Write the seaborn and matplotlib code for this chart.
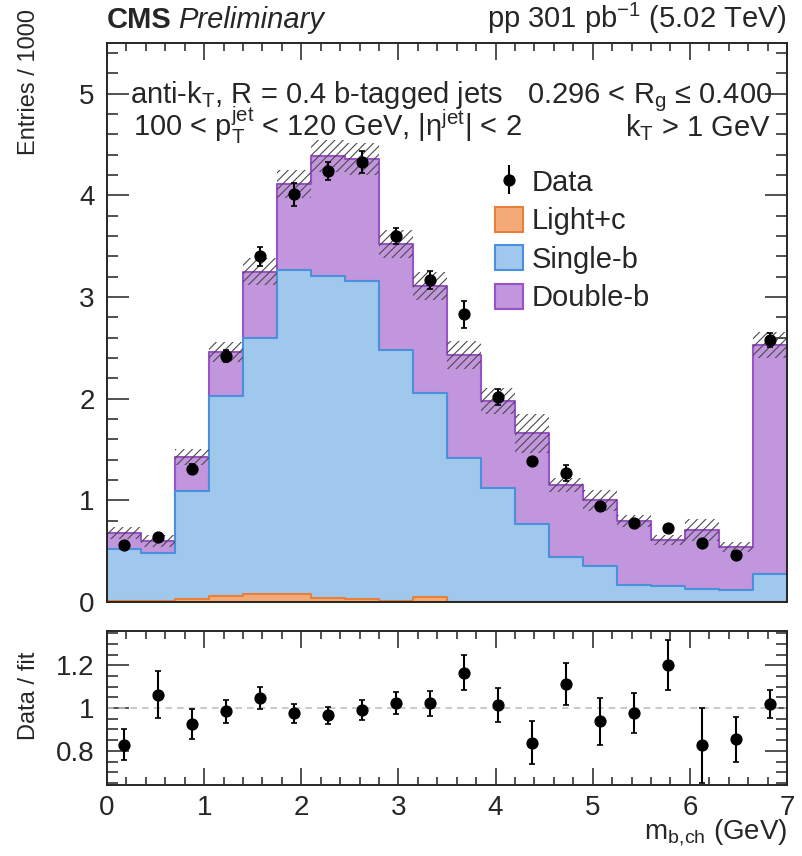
import numpy as np
import pandas as pd
import matplotlib
matplotlib.use('Agg')
import matplotlib.pyplot as plt
from matplotlib.patches import Patch
from matplotlib.ticker import MultipleLocator, FuncFormatter
import seaborn as sns

# binning of the b-jet charged mass (GeV)
bin_edges = np.linspace(0, 7, 21)

# fitted templates, entries / 1000 per bin
light_c = [0.015, 0.01, 0.025, 0.06, 0.075, 0.075, 0.035, 0.025, 0.01, 0.045,
           0.005, 0.005, 0.005, 0.005, 0.005, 0.005, 0.005, 0.005, 0.005, 0.005]
single_b = [0.505, 0.47, 1.065, 1.97, 2.525, 3.195, 3.175, 3.135, 2.47, 2.015,
            1.415, 1.115, 0.765, 0.435, 0.345, 0.165, 0.155, 0.125, 0.115, 0.275]
double_b = [0.16, 0.12, 0.34, 0.43, 0.65, 0.84, 1.18, 1.20, 1.04, 1.05,
            1.01, 0.86, 0.89, 0.71, 0.65, 0.63, 0.45, 0.58, 0.42, 2.25]
fit_unc = [0.06, 0.06, 0.08, 0.10, 0.13, 0.14, 0.16, 0.16, 0.14, 0.14,
           0.14, 0.13, 0.19, 0.07, 0.10, 0.06, 0.05, 0.11, 0.05, 0.13]

# data
data = [0.56, 0.64, 1.31, 2.42, 3.40, 4.01, 4.24, 4.33, 3.60, 3.17,
        2.83, 2.02, 1.39, 1.27, 0.94, 0.78, 0.73, 0.58, 0.46, 2.58]
data_err = [0.03, 0.03, 0.05, 0.06, 0.09, 0.11, 0.09, 0.11, 0.08, 0.09,
            0.13, 0.08, 0.04, 0.08, 0.03, 0.03, 0.03, 0.03, 0.03, 0.07]

# data / fit
ratio = [0.829, 1.062, 0.924, 0.984, 1.047, 0.975, 0.966, 0.991, 1.022, 1.022,
         1.166, 1.016, 0.838, 1.112, 0.938, 0.978, 1.200, 0.826, 0.855, 1.019]
ratio_err = [0.074, 0.11, 0.07, 0.055, 0.05, 0.043, 0.04, 0.047, 0.052, 0.06,
             0.082, 0.08, 0.10, 0.10, 0.11, 0.093, 0.117, 0.175, 0.105, 0.065]

components = ['Light+c', 'Single-b', 'Double-b']
fills = {'Light+c': '#f4aa78', 'Single-b': '#a0c8ec', 'Double-b': '#c196dc'}
edges = {'Light+c': '#e8803a', 'Single-b': '#4a90dc', 'Double-b': '#9a52c8'}

centers = 0.5 * (bin_edges[:-1] + bin_edges[1:])
width = bin_edges[1] - bin_edges[0]
df = pd.DataFrame({'center': centers, 'Light+c': light_c,
                   'Single-b': single_b, 'Double-b': double_b})
stack = df[components].cumsum(axis=1)
total = stack['Double-b'].to_numpy()

sns.set_theme(style='ticks')
font = ['Liberation Sans', 'DejaVu Sans']
plt.rcParams['font.family'] = font
plt.rcParams['mathtext.fontset'] = 'custom'
plt.rcParams['mathtext.rm'] = 'Liberation Sans'
plt.rcParams['mathtext.it'] = 'Liberation Sans:italic'
plt.rcParams['mathtext.bf'] = 'Liberation Sans:bold'
plt.rcParams['hatch.linewidth'] = 0.8
plt.rcParams['hatch.color'] = '#4a4a4a'

txt = 21  # size of the in-frame texts

fig = plt.figure(figsize=(8.03, 8.56), dpi=100)
ax = fig.add_axes([0.1333, 0.2967, 0.8468, 0.6531])
ax2 = fig.add_axes([0.1333, 0.0829, 0.8468, 0.1799])

# stacked templates, drawn top layer first
for name in components[::-1]:
    layer = pd.DataFrame({'center': centers, 'w': stack[name].to_numpy()})
    sns.histplot(data=layer, x='center', weights='w', bins=list(bin_edges),
                 element='step', fill=True, color=fills[name],
                 edgecolor=edges[name], alpha=1, linewidth=1.5, ax=ax)

# fit uncertainty band
ax.bar(centers, 2 * np.array(fit_unc), bottom=total - np.array(fit_unc),
       width=width, fill=False, hatch='////', edgecolor='#4a4a4a', linewidth=0)

ax.errorbar(centers, data, yerr=data_err, fmt='o', color='black', ms=7.8,
            elinewidth=1.5, capsize=2.2, capthick=1.2)

ax.set_xlim(0, 7)
ax.set_ylim(0, 5.5)
ax.set_xlabel('')
ax.set_ylabel('Entries / 1000', fontsize=17)
ax.yaxis.set_label_coords(-0.099, 0.93)
ax.yaxis.label.set_va('bottom')
ax.xaxis.set_major_locator(MultipleLocator(1))
ax.xaxis.set_minor_locator(MultipleLocator(0.2))
ax.yaxis.set_major_locator(MultipleLocator(1))
ax.yaxis.set_minor_locator(MultipleLocator(0.2))
ax.tick_params(which='both', direction='in', top=True, right=True,
               labelbottom=False, width=1.1, color='#222222')
ax.tick_params(axis='y', which='major', length=16, labelsize=20, pad=9)
ax.tick_params(axis='y', which='minor', length=8)
ax.tick_params(axis='x', which='major', length=12)
ax.tick_params(axis='x', which='minor', length=6)
for s in ax.spines.values():
    s.set_linewidth(1.4)

# legend
data_handle = ax.errorbar([], [], yerr=[], fmt='o', color='black', ms=7.8,
                          elinewidth=1.5, capsize=2.2)
handles = [data_handle] + [Patch(facecolor=fills[n], edgecolor=edges[n], linewidth=1.5)
                           for n in components]
ax.legend(handles, ['Data'] + components, loc='upper left',
          bbox_to_anchor=(0.5706, 0.776), frameon=False, fontsize=txt,
          handlelength=0.95, handleheight=0.95, handletextpad=0.3,
          labelspacing=0.34, borderpad=0, borderaxespad=0)

# annotations
ax.text(0.034, 0.893, r'anti-k$_{\mathrm{T}}$, R = 0.4 b-tagged jets',
        transform=ax.transAxes, fontsize=txt, va='baseline', ha='left')
ax.text(0.978, 0.893, r'0.296 < R$_{\mathrm{g}}$ ≤ 0.400',
        transform=ax.transAxes, fontsize=txt, va='baseline', ha='right')
ax.text(0.038, 0.833,
        r'100 < p$_{\mathrm{T}}^{\mathrm{jet}}$ < 120 GeV, |η$^{\mathrm{jet}}$| < 2',
        transform=ax.transAxes, fontsize=txt, va='baseline', ha='left')
ax.text(0.976, 0.833, r'k$_{\mathrm{T}}$ > 1 GeV',
        transform=ax.transAxes, fontsize=txt, va='baseline', ha='right')

cms = fig.text(0.1333, 0.9673, 'CMS', fontsize=txt, fontweight='bold',
               va='baseline', ha='left')
ax.annotate('Preliminary', xy=(1, 0), xycoords=cms, xytext=(6, 0),
            textcoords='offset pixels', fontsize=txt, style='italic',
            va='bottom', ha='left', annotation_clip=False)
fig.text(0.980, 0.9673, r'pp 301 pb$^{-1}$ (5.02 TeV)', fontsize=txt,
         va='baseline', ha='right')

# ratio panel
ax2.axhline(1.0, color='#c0c0c0', linestyle=(0, (4, 3)), linewidth=1.2)
ax2.errorbar(centers, ratio, yerr=ratio_err, fmt='o', color='black', ms=7.8,
             elinewidth=1.5, capsize=2.2, capthick=1.2)
ax2.set_xlim(0, 7)
ax2.set_ylim(0.64, 1.36)
ax2.xaxis.set_major_locator(MultipleLocator(1))
ax2.xaxis.set_minor_locator(MultipleLocator(0.2))
ax2.yaxis.set_major_locator(MultipleLocator(0.2))
ax2.yaxis.set_minor_locator(MultipleLocator(0.05))
ax2.yaxis.set_major_formatter(FuncFormatter(lambda v, p: f'{v:g}'))
ax2.tick_params(which='both', direction='in', top=True, right=True,
                width=1.1, color='#222222')
ax2.tick_params(axis='y', which='major', length=16, labelsize=20, pad=9)
ax2.tick_params(axis='y', which='minor', length=8)
ax2.tick_params(axis='x', which='major', length=12, labelsize=20, pad=7)
ax2.tick_params(axis='x', which='minor', length=6)
for s in ax2.spines.values():
    s.set_linewidth(1.4)
ax2.set_ylabel('Data / fit', fontsize=17)
ax2.yaxis.set_label_coords(-0.099, 0.578)
ax2.yaxis.label.set_va('bottom')
ax2.set_xlabel(r'm$_{\mathrm{b,\!ch}}$ (GeV)', fontsize=20, loc='right')
ax2.xaxis.set_label_coords(1.0, -0.212)

fig.savefig('out.png', dpi=100)
